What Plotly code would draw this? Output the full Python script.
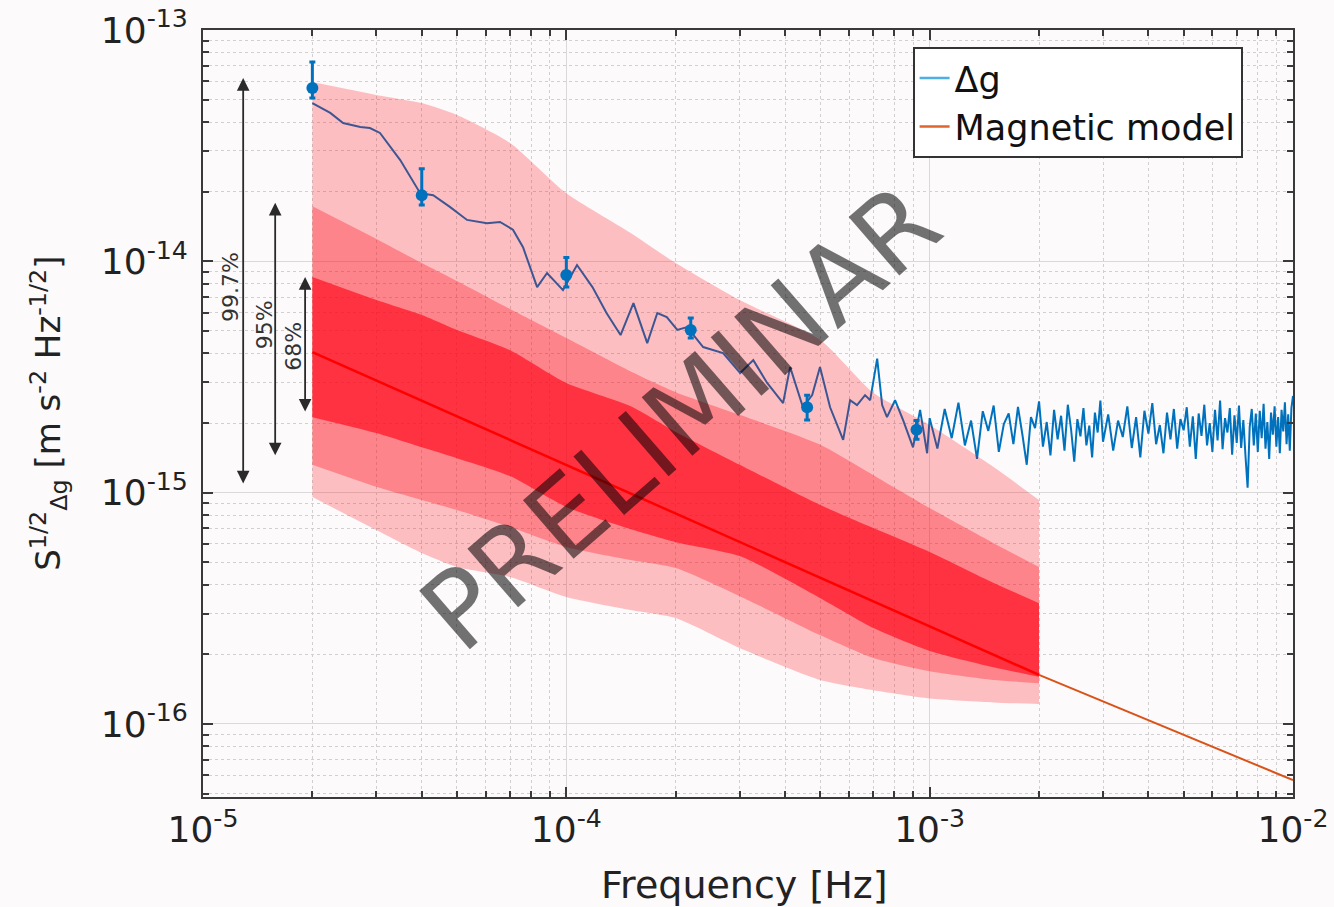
import numpy as np
import plotly.graph_objects as go

# ---------------- data ----------------
# Δg amplitude spectral density, low-frequency part
dg_f_low = [2.00e-5, 2.24e-5, 2.43e-5, 2.71e-5, 2.88e-5, 3.07e-5, 3.49e-5, 3.96e-5, 4.30e-5, 4.78e-5,
            5.33e-5, 6.05e-5, 6.57e-5, 7.13e-5, 7.60e-5, 8.31e-5, 8.85e-5, 9.79e-5, 1.07e-4, 1.18e-4,
            1.29e-4, 1.41e-4, 1.53e-4, 1.67e-4, 1.78e-4, 1.89e-4, 2.02e-4, 2.15e-4, 2.38e-4, 2.70e-4,
            3.01e-4, 3.27e-4, 3.57e-4, 3.95e-4, 4.13e-4, 4.32e-4, 4.48e-4, 4.75e-4, 4.99e-4, 5.32e-4,
            5.78e-4, 6.04e-4, 6.31e-4, 6.64e-4, 6.86e-4, 7.17e-4, 7.40e-4, 7.63e-4, 8.03e-4, 8.45e-4,
            9.00e-4, 9.41e-4, 9.84e-4]
dg_v_low = [4.83e-14, 4.38e-14, 3.96e-14, 3.81e-14, 3.77e-14, 3.59e-14, 2.74e-14, 1.97e-14, 1.93e-14, 1.72e-14,
            1.51e-14, 1.46e-14, 1.48e-14, 1.37e-14, 1.15e-14, 7.74e-15, 8.90e-15, 7.51e-15, 9.64e-15, 7.74e-15,
            5.98e-15, 4.80e-15, 6.60e-15, 4.43e-15, 5.98e-15, 5.74e-15, 5.05e-15, 5.20e-15, 4.26e-15, 4.01e-15,
            3.29e-15, 3.74e-15, 2.98e-15, 2.44e-15, 3.49e-15, 2.78e-15, 2.34e-15, 2.64e-15, 3.49e-15, 2.34e-15,
            1.69e-15, 2.51e-15, 2.39e-15, 2.64e-15, 2.51e-15, 3.80e-15, 2.39e-15, 2.12e-15, 2.51e-15, 2.06e-15,
            1.57e-15, 2.28e-15, 1.48e-15]

# Δg high-frequency part: regular frequency bins (units of 1e-5 Hz)
dg_bins_high = list(range(100, 301, 5)) + list(range(310, 1001, 10))
dg_v_high_e15 = [2.10, 1.55, 2.30, 1.72, 2.45, 1.60, 2.05, 1.40, 2.25, 1.85,
                 2.38, 1.50, 1.98, 2.20, 1.62, 2.35, 1.78, 1.32, 2.12, 1.90,
                 2.48, 1.58, 2.02, 1.45, 2.28, 1.70, 2.15, 1.52, 2.40, 1.88,
                 1.36, 2.08, 1.75, 2.32, 1.60, 1.95, 1.42, 2.22, 1.82, 2.50,
                 1.66,
                 2.18, 1.52, 2.05, 1.74, 2.36, 1.56, 2.12, 1.42, 2.26, 1.80,
                 2.44, 1.62, 1.96, 1.48, 2.22, 1.70, 2.30, 1.55, 2.08, 1.86,
                 2.34, 1.58, 2.14, 1.40, 2.20, 1.76, 2.40, 1.60, 2.00, 1.50,
                 2.28, 1.68, 2.50, 1.54, 2.10, 1.82, 2.32, 1.46, 2.16, 1.64,
                 2.38, 1.56, 2.06, 1.44, 1.05, 1.92, 2.30, 1.60, 2.20, 1.50,
                 2.26, 1.72, 2.42, 1.55, 2.02, 1.40, 2.22, 1.78, 2.36, 1.58,
                 2.12, 1.48, 2.28, 1.84, 2.46, 1.62, 2.18, 1.52, 2.32, 2.62]

# Binned Δg points with error bars
pt_f = [2.0e-5, 4.0e-5, 1.0e-4, 2.2e-4, 4.6e-4, 9.2e-4]
pt_v = [5.61e-14, 1.93e-14, 8.73e-15, 5.05e-15, 2.34e-15, 1.87e-15]
pt_hi = [7.27e-14, 2.51e-14, 1.04e-14, 5.69e-15, 2.64e-15, 2.05e-15]
pt_lo = [5.08e-14, 1.75e-14, 7.74e-15, 4.66e-15, 2.06e-15, 1.70e-15]

# Magnetic model confidence bands
band_f = [2e-5, 3e-5, 4e-5, 5e-5, 7e-5, 1e-4, 1.5e-4, 2e-4, 3e-4, 5e-4, 7e-4, 1e-3, 1.5e-3, 2e-3]
b997_hi = [5.96e-14, 5.24e-14, 4.83e-14, 4.29e-14, 3.25e-14, 1.97e-14, 1.33e-14, 9.83e-15, 6.80e-15, 4.57e-15, 2.70e-15, 1.96e-15, 1.29e-15, 9.29e-16]
b997_lo = [9.57e-16, 6.89e-16, 5.48e-16, 4.77e-16, 4.32e-16, 3.54e-16, 3.11e-16, 2.87e-16, 2.13e-16, 1.55e-16, 1.40e-16, 1.29e-16, 1.24e-16, 1.22e-16]
b95_hi = [1.73e-14, 1.25e-14, 9.83e-15, 8.22e-15, 6.22e-15, 4.66e-15, 3.35e-15, 2.72e-15, 2.17e-15, 1.61e-15, 1.19e-15, 8.58e-16, 6.05e-16, 4.77e-16]
b95_lo = [1.32e-15, 1.06e-15, 9.29e-16, 8.41e-16, 7.10e-16, 5.82e-16, 5.11e-16, 4.72e-16, 3.57e-16, 2.42e-16, 1.93e-16, 1.69e-16, 1.55e-16, 1.50e-16]
b68_hi = [8.55e-15, 6.80e-15, 5.86e-15, 5.05e-15, 4.13e-15, 2.98e-15, 2.37e-15, 1.83e-15, 1.32e-15, 8.84e-16, 7.03e-16, 5.54e-16, 4.07e-16, 3.33e-16]
b68_lo = [2.12e-15, 1.81e-15, 1.57e-15, 1.41e-15, 1.18e-15, 8.67e-16, 6.96e-16, 6.11e-16, 5.32e-16, 3.50e-16, 2.60e-16, 2.07e-16, 1.76e-16, 1.60e-16]

# Magnetic model (median) line
median_f = [2e-5, 2e-3]
median_v = [4.05e-15, 1.63e-16]
model_f = [2e-3, 1e-2]
model_v = [1.63e-16, 5.72e-17]

# Confidence-level arrows: (label, frequency, upper, lower)
arrow_labels = ["99.7%", "95%", "68%"]
arrow_f = [1.29e-5, 1.58e-5, 1.91e-5]
arrow_top = [6.20e-14, 1.79e-14, 8.55e-15]
arrow_bot = [1.08e-15, 1.43e-15, 2.21e-15]

x_ticks = [1e-5, 1e-4, 1e-3, 1e-2]
x_ticktext = ["10<sup>-5</sup>", "10<sup>-4</sup>", "10<sup>-3</sup>", "10<sup>-2</sup>"]
y_ticks = [1e-16, 1e-15, 1e-14, 1e-13]
y_ticktext = ["10<sup>-16</sup>", "10<sup>-15</sup>", "10<sup>-14</sup>", "10<sup>-13</sup>"]

# ---------------- figure ----------------
BLUE = "#0072BD"
FONT = "DejaVu Sans"
dg_f = dg_f_low + [b * 1e-5 for b in dg_bins_high]
dg_v = dg_v_low + [v * 1e-15 for v in dg_v_high_e15]

fig = go.Figure()

fig.add_trace(go.Scatter(x=dg_f, y=dg_v, mode="lines", line=dict(color=BLUE, width=2),
                         showlegend=False, hoverinfo="skip"))


def add_band(lo, hi, color):
    edge = dict(width=0, shape="spline", smoothing=0.6)
    fig.add_trace(go.Scatter(x=band_f, y=lo, mode="lines", line=edge,
                             showlegend=False, hoverinfo="skip"))
    fig.add_trace(go.Scatter(x=band_f, y=hi, mode="lines", line=edge, fill="tonexty",
                             fillcolor=color, showlegend=False, hoverinfo="skip"))


add_band(b997_lo, b997_hi, "rgba(255,0,12,0.24)")
add_band(b95_lo, b95_hi, "rgba(255,0,12,0.30)")
add_band(b68_lo, b68_hi, "rgba(255,0,20,0.62)")

fig.add_trace(go.Scatter(x=median_f, y=median_v, mode="lines", line=dict(color="#FF0000", width=2.5),
                         showlegend=False, hoverinfo="skip"))
fig.add_trace(go.Scatter(x=model_f, y=model_v, mode="lines", line=dict(color="#D95319", width=2),
                         showlegend=False, hoverinfo="skip"))

fig.add_trace(go.Scatter(
    x=pt_f, y=pt_v, mode="markers", marker=dict(color=BLUE, size=12),
    error_y=dict(type="data", symmetric=False,
                 array=[h - v for h, v in zip(pt_hi, pt_v)],
                 arrayminus=[v - l for l, v in zip(pt_lo, pt_v)],
                 color=BLUE, thickness=3, width=3),
    showlegend=False, hoverinfo="skip"))

# legend entries
fig.add_trace(go.Scatter(x=[None], y=[None], mode="lines", line=dict(color="#4FAEE3", width=2.5), name="Δg"))
fig.add_trace(go.Scatter(x=[None], y=[None], mode="lines", line=dict(color="#E0652D", width=2.5), name="Magnetic model"))

annotations = []
label_pos = [(0.0257, 0.665), (0.056, 0.615), (0.0835, 0.587)]
for lab, f, top, bot, (px, py) in zip(arrow_labels, arrow_f, arrow_top, arrow_bot, label_pos):
    annotations.append(dict(x=np.log10(f), y=np.log10(top), ax=np.log10(f), ay=np.log10(bot),
                            xref="x", yref="y", axref="x", ayref="y", text="", showarrow=True,
                            arrowside="end+start", arrowhead=2, arrowsize=1.4, arrowwidth=1.8,
                            arrowcolor="#2a2a2a"))
    annotations.append(dict(x=px, y=py, xref="paper", yref="paper", text=lab, showarrow=False,
                            textangle=-90, font=dict(family=FONT, size=22, color="#333333"),
                            xanchor="center", yanchor="middle"))

annotations.append(dict(x=0.497, y=-0.115, xref="paper", yref="paper", text="Frequency [Hz]",
                        showarrow=False, font=dict(family=FONT, size=38, color="#222222"),
                        xanchor="center", yanchor="middle"))
annotations.append(dict(x=-0.142, y=0.50, xref="paper", yref="paper",
                        text="S<sup>1/2</sup><sub>Δg</sub> [m s<sup>-2</sup> Hz<sup>-1/2</sup>]",
                        showarrow=False, textangle=-90, font=dict(family=FONT, size=34, color="#222222"),
                        xanchor="center", yanchor="middle"))
annotations.append(dict(x=0.438, y=0.495, xref="paper", yref="paper", text="PRELIMINAR",
                        showarrow=False, textangle=-41,
                        font=dict(family=FONT, size=106, color="rgba(0,0,0,0.55)"),
                        xanchor="center", yanchor="middle"))

minor_x = [k * 10.0 ** e for e in range(-5, -2) for k in range(2, 10)]
minor_y = [k * 10.0 ** e for e in range(-17, -13) for k in range(2, 10)]

axis_common = dict(showline=True, linecolor="#3a3a3a", linewidth=2, mirror="ticks",
                   ticks="inside", ticklen=10, tickwidth=1.5, tickcolor="#3a3a3a",
                   showgrid=True, gridcolor="#d9d9d9", gridwidth=1, zeroline=False,
                   tickfont=dict(family=FONT, size=36, color="#222222"), automargin=False)

fig.update_layout(
    width=1334, height=907,
    margin=dict(l=203, r=41, t=30, b=110, pad=0),
    paper_bgcolor="#fdfafc", plot_bgcolor="#fdfafc",
    xaxis=dict(type="log", range=[-5, -2], tickmode="array", tickvals=x_ticks, ticktext=x_ticktext,
               minor=dict(tickmode="array", tickvals=minor_x, ticks="inside", ticklen=6,
                          tickcolor="#3a3a3a", showgrid=True, gridcolor="#d0d0d0", griddash="dot"),
               **axis_common),
    yaxis=dict(type="log", range=[-16.3156, -13], tickmode="array", tickvals=y_ticks, ticktext=y_ticktext,
               ticklabelstandoff=6,
               minor=dict(tickmode="array", tickvals=minor_y, ticks="inside", ticklen=6,
                          tickcolor="#3a3a3a", showgrid=True, gridcolor="#d0d0d0", griddash="dot"),
               **axis_common),
    legend=dict(x=0.651, y=0.978, xanchor="left", yanchor="top", bgcolor="#ffffff",
                bordercolor="#333333", borderwidth=2, traceorder="normal",
                font=dict(family=FONT, size=35, color="#111111"), tracegroupgap=0),
    annotations=annotations,
    showlegend=True,
)

fig.write_html("out.html")
